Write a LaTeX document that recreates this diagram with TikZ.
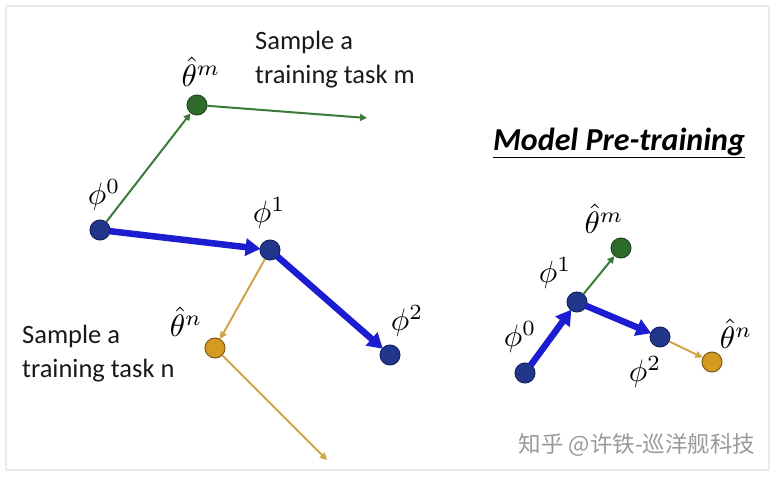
\documentclass[tikz,border=0pt]{standalone}
\usepackage{graphicx}
\usepackage{fontspec}
\setmainfont{Carlito}
\newfontfamily\cjk{Noto Sans CJK SC}
\usetikzlibrary{arrows.meta}
\definecolor{navy}{HTML}{22368C}
\definecolor{navyd}{HTML}{152560}
\definecolor{bluearr}{HTML}{1C1CD0}
\definecolor{gnode}{HTML}{2E6B2A}
\definecolor{garr}{HTML}{3C7A38}
\definecolor{ynode}{HTML}{D49A22}
\definecolor{yarr}{HTML}{CFA548}
\definecolor{framec}{HTML}{EBEBEB}
\newcommand{\ml}[1]{\scalebox{3.1}{$#1$}}
\tikzset{
  dot/.style={circle,minimum size=20pt,inner sep=0pt,line width=1pt},
  bdot/.style={dot,fill=navy,draw=navyd},
  gdot/.style={dot,fill=gnode,draw=gnode!70!black},
  ydot/.style={dot,fill=ynode,draw=ynode!60!black},
  barrow/.style={bluearr,line width=6.5pt,-{Triangle[length=15pt,width=17pt]},shorten <=-1pt,shorten >=-1pt},
  garrow/.style={garr,line width=2pt,-{Triangle[length=7pt,width=7pt]}},
  yarrow/.style={yarr,line width=2pt,-{Triangle[length=7pt,width=7pt]}},
  mlab/.style={inner sep=0pt},
  txt/.style={font=\fontsize{26.5}{34}\selectfont,align=left,anchor=north west,inner sep=0pt,text=black!90},
}
\begin{document}
\begin{tikzpicture}[x=1pt,y=-1pt]
\useasboundingbox (0,0) rectangle (776,478);
\draw[framec,line width=2pt] (6,6) rectangle (769,470);
% left part
\node[bdot] (p0) at (100,230) {};
\node[gdot] (tm) at (197,105) {};
\node[bdot] (p1) at (270,250) {};
\node[bdot] (p2) at (390,355) {};
\node[ydot] (tn) at (215,348) {};
\coordinate (em) at (367,118);
\coordinate (en) at (327,460);
\node[mlab] (lp0) at (104,195) {\ml{\phi^0}};
\node[mlab] (ltm) at (201,72) {\ml{\hat\theta^m}};
\node[mlab] (lp1) at (269,213) {\ml{\phi^1}};
\node[mlab] (lp2) at (407,321) {\ml{\phi^2}};
\node[mlab] (ltn) at (186,322) {\ml{\hat\theta^n}};
\node[txt] (sm) at (255,31) {Sample a\\training task m};
\node[txt] (sn) at (22,325) {Sample a\\training task n};
\draw[garrow] (p0) -- (tm);
\draw[garrow] (tm) -- (em);
\draw[barrow] (p0) -- (p1);
\draw[barrow] (p1) -- (p2);
\draw[yarrow] (p1) -- (tn);
\draw[yarrow] (tn) -- (en);
% right part
\node[font=\fontsize{32}{36}\selectfont\bfseries\itshape,inner sep=0pt] (title) at (619,143) {\underline{Model Pre-training}};
\node[bdot] (q0) at (525,373) {};
\node[bdot] (q1) at (577,302) {};
\node[gdot] (qm) at (621,248) {};
\node[bdot] (q2) at (660,337) {};
\node[ydot] (qn) at (712,362) {};
\node[mlab] (lq0) at (520,337) {\ml{\phi^0}};
\node[mlab] (lq1) at (555,273) {\ml{\phi^1}};
\node[mlab] (lqm) at (604,219) {\ml{\hat\theta^m}};
\node[mlab] (lq2) at (645,372) {\ml{\phi^2}};
\node[mlab] (lqn) at (736,334) {\ml{\hat\theta^n}};
\draw[barrow] (q0) -- (q1);
\draw[barrow] (q1) -- (q2);
\draw[garrow] (q1) -- (qm);
\draw[yarrow] (q2) -- (qn);
\node[font=\cjk\fontsize{22.5}{26}\selectfont,text=black!40] (wm) at (637,445) {知乎 @许铁-巡洋舰科技};
\end{tikzpicture}
\end{document}
